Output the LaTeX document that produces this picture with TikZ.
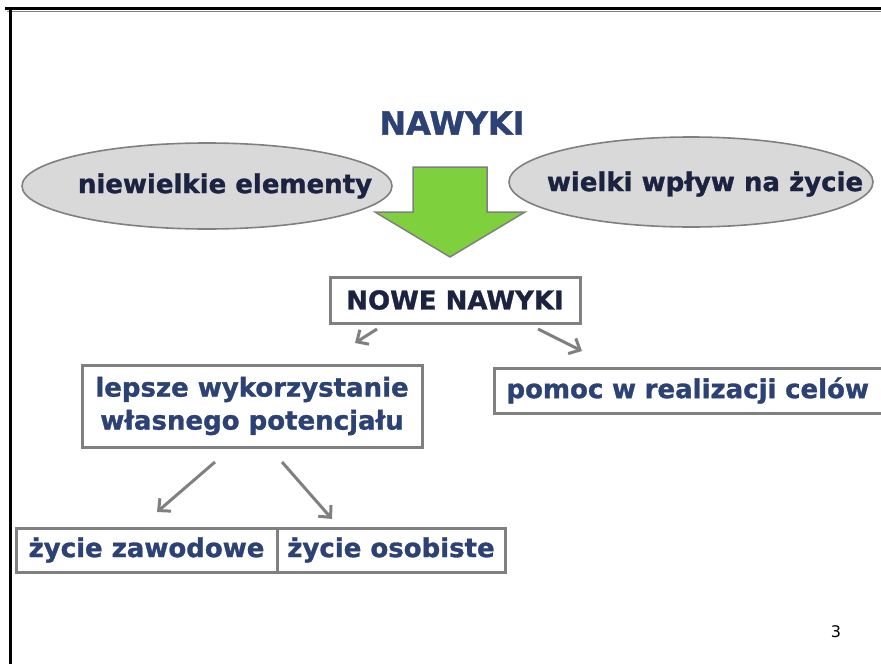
\documentclass[tikz,border=0pt]{standalone}
\usepackage{fontspec}
\setmainfont{DejaVu Sans}[BoldFeatures={FakeBold=1.2}]
\usetikzlibrary{shapes.geometric,arrows.meta}
\definecolor{navy}{RGB}{44,66,116}
\definecolor{darknavy}{RGB}{27,35,65}
\definecolor{linegray}{RGB}{128,128,128}
\definecolor{ellfill}{RGB}{217,217,217}
\definecolor{arrgreen}{RGB}{126,208,60}
\tikzset{
  bigtxt/.style={font=\fontsize{26}{33}\selectfont\bfseries},
  oval/.style={ellipse, draw=linegray, line width=1.6pt, fill=ellfill, inner sep=0pt},
  boxnode/.style={draw=linegray, line width=3pt, fill=white, bigtxt, text=navy, inner sep=0pt, align=center},
  link/.style={draw=linegray, line width=3pt, -{Straight Barb[length=9pt,width=17pt,line width=3pt]}},
}
\begin{document}
\begin{tikzpicture}[x=1pt,y=-1pt]
\useasboundingbox (0,0) rectangle (881,664);
\fill[white] (0,0) rectangle (881,664);
% frame
\draw[linegray, line width=1pt] (7,11) -- (881,11);
\draw[black, line width=3pt] (5,8.5) -- (881,8.5);
\draw[black, line width=3.2pt] (10.5,7) -- (10.5,664);
% title
\node (title) at (452,123) {\fontsize{32}{38}\selectfont\bfseries\color{navy}NAWYKI};
% ellipses
\node[oval, minimum width=370pt, minimum height=86pt] (ellL) at (207,186) {};
\node[bigtxt, text=darknavy] (txtL) at (225,186) {niewielkie elementy};
\node[oval, minimum width=364pt, minimum height=90pt] (ellR) at (691,182) {};
\node[bigtxt, text=darknavy] (txtR) at (705,184) {wielki wpływ na życie};
% green block arrow
\draw[linegray, line width=1.5pt, fill=arrgreen, line join=miter]
  (413,167) -- (487,167) -- (487,212) -- (525,212) -- (450,257) -- (375,212) -- (413,212) -- cycle;
% boxes
\node[boxnode, text=darknavy, minimum width=250pt, minimum height=46pt] (nowe) at (455,300) {NOWE NAWYKI};
\node[boxnode, minimum width=340pt, minimum height=82pt] (lepsze) at (252,406) {lepsze wykorzystanie\\własnego potencjału};
\node[boxnode, anchor=west, minimum width=395pt, minimum height=45pt, align=left, text width=371pt, inner xsep=12pt] (pomoc) at (493,390.5) {pomoc w realizacji celów};
\node[boxnode, minimum width=261pt, minimum height=44pt] (zaw) at (146.5,550) {życie zawodowe};
\node[boxnode, minimum width=228pt, minimum height=44pt] (oso) at (391,550) {życie osobiste};
% arrow ends
\coordinate (a1s) at (377,329);
\coordinate (a1e) at (355,343);
\coordinate (a2s) at (538,329);
\coordinate (a2e) at (582,351);
\coordinate (a3s) at (215,462);
\coordinate (a3e) at (157,512);
\coordinate (a4s) at (282,462);
\coordinate (a4e) at (332,519);
\draw[link] (a1s) -- (a1e);
\draw[link] (a2s) -- (a2e);
\draw[link] (a3s) -- (a3e);
\draw[link] (a4s) -- (a4e);
% page number
\node (pnum) at (836,632) {\fontsize{16}{19}\selectfont 3};
\end{tikzpicture}
\end{document}
